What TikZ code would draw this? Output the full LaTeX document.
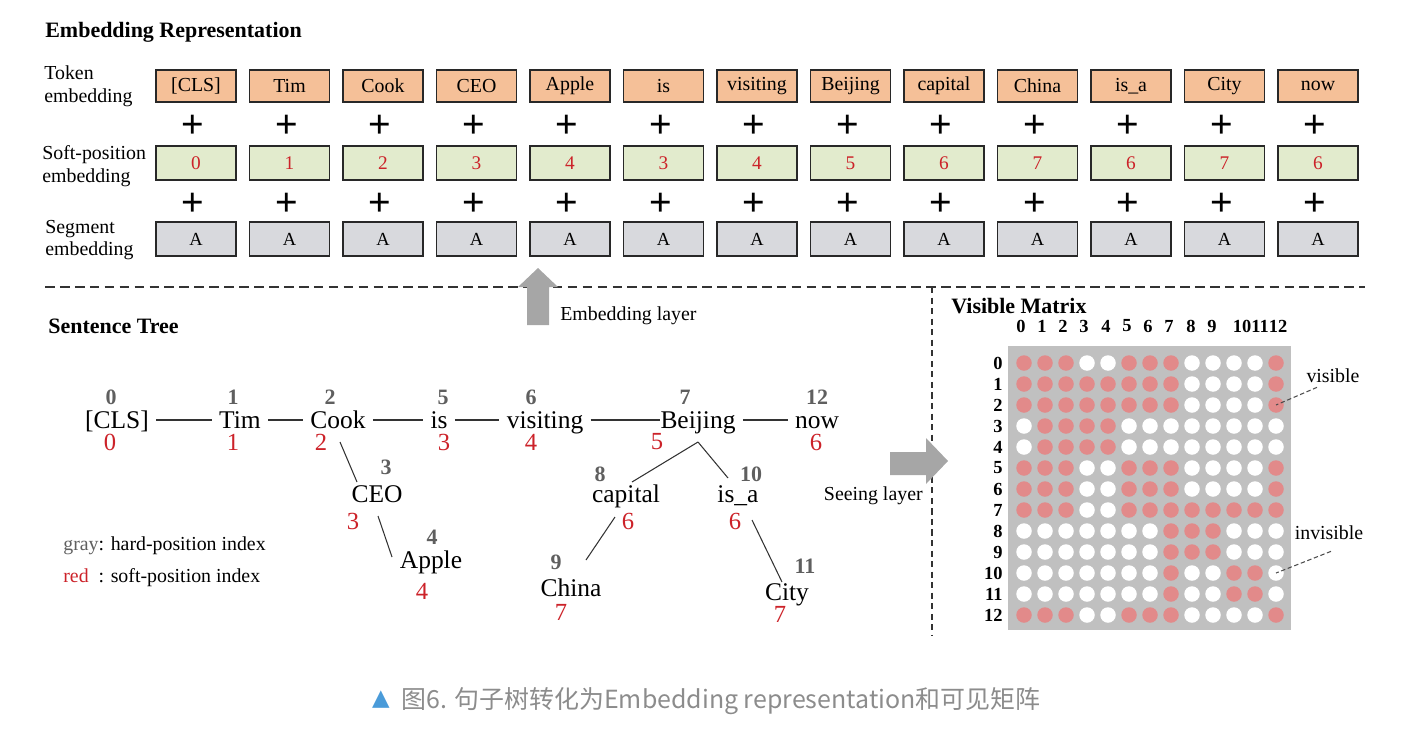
\documentclass[tikz,border=0pt]{standalone}
\usepackage{fontspec}
\setmainfont{Liberation Serif}
\newfontfamily\cjkfont{Noto Sans CJK SC}
\newfontfamily\symbfont{DejaVu Sans}
\newfontfamily\plusfont{Liberation Sans}
\usetikzlibrary{calc}

\definecolor{tokfill}{RGB}{245,192,152}
\definecolor{softfill}{RGB}{226,235,205}
\definecolor{segfill}{RGB}{216,217,221}
\definecolor{boxline}{RGB}{40,40,40}
\definecolor{numred}{RGB}{204,34,41}
\definecolor{numgray}{RGB}{95,95,95}
\definecolor{arrowgray}{RGB}{166,166,166}
\definecolor{matgray}{RGB}{192,192,192}
\definecolor{dotred}{RGB}{226,138,138}
\definecolor{capgray}{RGB}{140,140,140}
\definecolor{capblue}{RGB}{74,155,217}

\begin{document}
\begin{tikzpicture}[x=0.02cm, y=-0.02cm,
    emb/.style={draw=boxline, line width=1pt, minimum width=1.6cm, inner sep=0pt},
    tokbox/.style={emb, fill=tokfill, minimum height=0.64cm, font=\fontsize{11.3}{13}\selectfont},
    softbox/.style={emb, fill=softfill, minimum height=0.68cm, text=numred, font=\fontsize{11}{13}\selectfont},
    segbox/.style={emb, fill=segfill, minimum height=0.68cm, font=\fontsize{10.5}{12}\selectfont},
    plussign/.style={font=\plusfont\fontsize{22}{22}\selectfont, inner sep=0pt},
    rowname/.style={anchor=west, align=left, font=\fontsize{11.3}{13}\selectfont, inner sep=0pt},
    heading/.style={anchor=west, font=\bfseries\fontsize{12.5}{14}\selectfont, inner sep=0pt},
    word/.style={font=\fontsize{14.5}{16}\selectfont, text height=12pt, text depth=2pt, inner sep=0pt},
    hardnum/.style={font=\bfseries\fontsize{12.5}{14}\selectfont, text=numgray, inner sep=0pt},
    softnum/.style={font=\fontsize{14}{16}\selectfont, text=numred, inner sep=0pt},
    chain/.style={draw=black!80, line width=0.6pt, shorten <=4pt, shorten >=4pt},
    branch/.style={draw=black!80, line width=0.6pt},
    note/.style={font=\fontsize{11.3}{13}\selectfont, inner sep=0pt},
    sep/.style={draw=black!80, line width=1.1pt, dash pattern=on 5.5pt off 3pt},
    dot/.style={circle, minimum size=0.31cm, inner sep=0pt},
    matnum/.style={font=\bfseries\fontsize{10.5}{12}\selectfont, inner sep=0pt},
    pointer/.style={draw=black!70, line width=0.6pt, dash pattern=on 2.5pt off 1.5pt}]

    \useasboundingbox (0,0) rectangle (1416,734);

    % embedding rows
    \node[heading] (embtitle) at (45,32) {Embedding Representation};
    \node[rowname] (tokname) at (44,86) {Token\\embedding};
    \node[rowname] (softname) at (42,166) {Soft-position\\embedding};
    \node[rowname] (segname) at (45,240) {Segment\\embedding};

    \foreach \t/\p [count=\i from 0] in {{[CLS]}/0, Tim/1, Cook/2, CEO/3, Apple/4, is/3, visiting/4, Beijing/5, capital/6, China/7, is\_a/6, City/7, now/6} {
        \node[tokbox] (tok\i) at ({196+93.5*\i},86) {\t};
        \node[plussign] (plusa\i) at ({193+93.5*\i},126) {+};
        \node[softbox] (soft\i) at ({196+93.5*\i},163) {\p};
        \node[plussign] (plusb\i) at ({193+93.5*\i},204) {+};
        \node[segbox] (seg\i) at ({196+93.5*\i},239) {A};
    }

    % separators
    \draw[sep] (45,287) -- (1365,287);
    \draw[sep, dash pattern=on 3.5pt off 2.5pt] (932,287) -- (932,636);

    % embedding layer arrow
    \fill[arrowgray] (527,325) -- (527,287) -- (518,287) -- (538,268) -- (558,287) -- (549,287) -- (549,325) -- cycle;
    \node[note, anchor=west] (emblayer) at (560,316) {Embedding layer};

    % sentence tree
    \node[heading] (treetitle) at (48,326) {Sentence Tree};
    \foreach \n/\w/\x/\y/\hx/\hy/\s/\sx/\sy in {
        0/{[CLS]}/117/420/111/397/0/110/442,
        1/Tim/240/420/233/397/1/233/442,
        2/Cook/338/420/330/397/2/321/442,
        5/is/439/420/443/397/3/444/442,
        6/visiting/545/420/531/397/4/531/442,
        7/Beijing/698/420/685/397/5/657/442,
        12/now/817/420/817/397/6/816/442,
        3/CEO/377/494/386/467/3/353/521,
        4/Apple/431/560/432/537/4/422/591,
        8/capital/626/494/600/474/6/628/521,
        10/is\_a/738/494/751/474/6/735/521,
        9/China/571/588/556/562/7/561/612,
        11/City/787/592/805/566/7/780/614} {
        \node[word] (w\n) at (\x,\y) {\w};
        \node[hardnum] (h\n) at (\hx,\hy) {\n};
        \node[softnum] (s\n) at (\sx,\sy) {\s};
    }

    \foreach \a/\b in {0/1, 1/2, 2/5, 5/6, 7/12}
        \draw[chain] (w\a) -- (w\b);
    \draw[chain, shorten >=0pt] (w6) -- (w7);

    \draw[branch] ($(w2)+(2,22)$) -- ($(w3)+(-20,-12)$);
    \draw[branch] ($(w3)+(1,22)$) -- ($(w4)+(-39,-3)$);
    \draw[branch] ($(w7)+(0,22)$) -- ($(w8)+(6,-12)$);
    \draw[branch] ($(w7)+(0,22)$) -- ($(w10)+(-10,-16)$);
    \draw[branch] ($(w8)+(-11,23)$) -- ($(w9)+(15,-28)$);
    \draw[branch] ($(w10)+(14,26)$) -- ($(w11)+(-5,-10)$);

    \node[note, anchor=west] (leghard) at (63,546) {\textcolor{numgray}{gray}: hard-position index};
    \node[note, anchor=west] (legsoft) at (63,578) {\textcolor{numred}{red}\ \ : soft-position index};

    % seeing layer arrow
    \fill[arrowgray] (890,452) -- (926,452) -- (926,438) -- (948,461) -- (926,484) -- (926,475) -- (890,475) -- cycle;
    \node[note, anchor=east] (seelayer) at (923,496) {Seeing layer};

    % visible matrix
    \node[heading] (vmtitle) at (951,306) {Visible Matrix};
    \fill[matgray] (1008,346) rectangle (1291,630);
    \foreach \c/\x in {0/1021, 1/1042, 2/1063, 3/1084, 4/1106, 5/1127, 6/1148, 7/1169, 8/1191, 9/1212, 10/1242, 11/1260, 12/1278}
        \node[matnum] (col\c) at (\x,326) {\c};
    \foreach \r/\bits in {
        0/{1,1,1,0,0,1,1,1,0,0,0,0,1},
        1/{1,1,1,1,1,1,1,1,0,0,0,0,1},
        2/{1,1,1,1,1,1,1,1,0,0,0,0,1},
        3/{0,1,1,1,1,0,0,0,0,0,0,0,0},
        4/{0,1,1,1,1,0,0,0,0,0,0,0,0},
        5/{1,1,1,0,0,1,1,1,0,0,0,0,1},
        6/{1,1,1,0,0,1,1,1,0,0,0,0,1},
        7/{1,1,1,0,0,1,1,1,1,1,1,1,1},
        8/{0,0,0,0,0,0,0,1,1,1,0,0,0},
        9/{0,0,0,0,0,0,0,1,1,1,0,0,0},
        10/{0,0,0,0,0,0,0,1,0,0,1,1,0},
        11/{0,0,0,0,0,0,0,1,0,0,1,1,0},
        12/{1,1,1,0,0,1,1,1,0,0,0,0,1}} {
        \node[matnum, anchor=east] (row\r) at (1003,{363+21*\r}) {\r};
        \foreach \v [count=\c from 0] in \bits {
            \ifnum\v=1 \def\dotcol{dotred}\else\def\dotcol{white}\fi
            \node[dot, fill=\dotcol] (m\r-\c) at ({1024+21*\c},{363+21*\r}) {};
        }
    }

    \node[note] (vis) at (1333,376) {visible};
    \node[note] (invis) at (1329,533) {invisible};
    \draw[pointer] ($(vis.south)+(-16,4)$) -- (m2-12.center);
    \draw[pointer] ($(invis.south)+(2,11)$) -- (m10-12.center);

    % caption
    \node[font=\symbfont\fontsize{13}{15}\selectfont, text=capblue, inner sep=0pt] (captri) at (381,700) {▲};
    \node[font=\cjkfont\fontsize{14.2}{16}\selectfont, text=capgray, anchor=west, inner sep=0pt] (caption) at (401,701) {图6. 句子树转化为Embedding representation和可见矩阵};
\end{tikzpicture}
\end{document}
